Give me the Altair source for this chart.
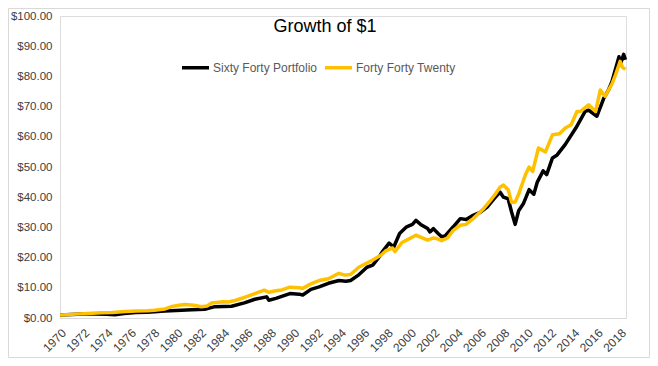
import altair as alt
import pandas as pd

# Sixty Forty Portfolio (black)
sf_years = [1970.0, 1971.0, 1972.0, 1973.0, 1974.0, 1974.7, 1975.5, 1976.5, 1977.5, 1978.1,
            1979.0, 1980.4, 1981.3, 1982.4, 1983.2, 1984.0, 1984.7, 1985.8, 1986.7, 1987.7,
            1987.9, 1988.5, 1989.7, 1990.5, 1990.8, 1991.5, 1992.2, 1993.0, 1993.9, 1994.5,
            1994.9, 1995.6, 1996.3, 1996.8, 1997.4, 1997.6, 1998.2, 1998.6, 1999.1, 1999.7,
            2000.2, 2000.5, 2000.9, 2001.5, 2001.7, 2002.0, 2002.4, 2002.7, 2003.0, 2003.7,
            2004.3, 2004.8, 2005.4, 2006.0, 2006.6, 2007.2, 2007.7, 2008.0, 2008.4, 2008.7,
            2009.0, 2009.3, 2009.7, 2010.2, 2010.6, 2010.9, 2011.4, 2011.7, 2012.2, 2012.6,
            2013.3, 2014.2, 2015.0, 2015.3, 2015.6, 2016.0, 2016.6, 2017.0, 2017.3, 2017.9,
            2018.0, 2018.3, 2018.45]
sf_values = [1.0, 1.15, 1.3, 1.35, 1.2, 1.1, 1.5, 1.8, 1.9, 2.1,
             2.3, 2.6, 2.7, 2.9, 3.7, 3.8, 3.9, 5.0, 6.2, 7.0,
             5.9, 6.5, 8.1, 7.9, 7.6, 9.5, 10.3, 11.5, 12.4, 12.2,
             12.4, 14.3, 16.8, 17.5, 20.5, 21.8, 24.8, 23.5, 28.0, 30.2,
             31.0, 32.3, 31.0, 29.6, 28.5, 29.6, 28.0, 26.9, 27.2, 30.2,
             32.9, 32.6, 34.0, 35.0, 36.7, 39.5, 41.7, 40.0, 39.5, 35.0,
             31.0, 35.5, 37.8, 42.5, 41.0, 45.0, 48.7, 47.5, 53.0, 54.0,
             57.5, 62.9, 68.4, 68.8, 67.9, 66.8, 72.8, 75.5, 78.3, 86.5,
             83.8, 87.3, 85.5]

# Forty Forty Twenty (gold)
fft_years = [1970.0, 1971.0, 1972.4, 1973.5, 1974.5, 1975.3, 1976.5, 1977.5, 1978.1, 1979.0,
             1979.5, 1980.2, 1980.7, 1981.5, 1982.1, 1982.6, 1983.0, 1984.0, 1984.4, 1985.0,
             1985.8, 1986.7, 1987.5, 1987.9, 1988.5, 1989.0, 1989.7, 1990.5, 1990.8, 1991.5,
             1992.2, 1993.0, 1993.9, 1994.4, 1994.9, 1995.6, 1996.3, 1996.8, 1997.5, 1997.9,
             1998.5, 1998.7, 1999.3, 1999.7, 2000.5, 2000.9, 2001.5, 2002.0, 2002.3, 2002.7,
             2003.2, 2003.7, 2004.3, 2004.8, 2005.4, 2006.3, 2006.8, 2007.3, 2007.7, 2008.0,
             2008.4, 2008.7, 2009.0, 2009.3, 2009.9, 2010.2, 2010.5, 2011.0, 2011.6, 2012.2,
             2012.8, 2013.3, 2013.8, 2014.3, 2014.6, 2015.3, 2015.9, 2016.3, 2016.7, 2017.3,
             2017.6, 2018.0, 2018.2, 2018.45]
fft_values = [1.0, 1.2, 1.5, 1.7, 1.8, 2.1, 2.3, 2.4, 2.6, 3.0,
              3.7, 4.2, 4.5, 4.2, 3.7, 4.0, 5.0, 5.4, 5.3, 5.8,
              6.8, 8.1, 9.2, 8.5, 9.0, 9.3, 10.2, 10.0, 9.8, 11.3,
              12.4, 13.0, 14.8, 14.2, 14.4, 16.8, 18.2, 19.2, 20.8, 22.2,
              23.2, 22.0, 25.0, 25.8, 27.4, 26.8, 25.8, 26.5, 26.3, 25.6,
              26.5, 29.0, 30.7, 31.0, 32.9, 36.2, 38.5, 41.0, 43.3, 44.0,
              42.5, 38.3, 38.4, 41.0, 47.6, 50.0, 48.5, 56.3, 55.0, 60.7,
              61.0, 62.9, 64.0, 68.4, 68.4, 70.6, 68.4, 75.5, 73.4, 77.5,
              80.5, 85.0, 83.0, 82.3]

series_names = ["Sixty Forty Portfolio", "Forty Forty Twenty"]
series_colors = ["#000000", "#FFC000"]
x_ticks = list(range(1970, 2019, 2))
y_ticks = list(range(0, 101, 10))
title_text = "Growth of $1"

df = pd.concat([
    pd.DataFrame({"year": sf_years, "value": sf_values, "series": series_names[0]}),
    pd.DataFrame({"year": fft_years, "value": fft_values, "series": series_names[1]}),
], ignore_index=True)

FONT = "Liberation Sans"

lines = alt.Chart(df).mark_line(strokeWidth=3.5, strokeJoin="round").encode(
    x=alt.X("year:Q",
            scale=alt.Scale(domain=[1970, 2018.5], nice=False, zero=False),
            axis=alt.Axis(values=x_ticks, format="d", labelAngle=-45, title=None,
                          grid=False, ticks=False, domainColor="#d9d9d9",
                          labelColor="#404040", labelFontSize=12, labelFont=FONT,
                          labelPadding=9, labelOverlap=False)),
    y=alt.Y("value:Q",
            scale=alt.Scale(domain=[0, 100], nice=False),
            axis=alt.Axis(values=y_ticks, format="$,.2f", title=None, grid=False,
                          ticks=False, domain=False, labelColor="#404040",
                          labelFontSize=11.5, labelFont=FONT, labelPadding=8)),
    color=alt.Color("series:N",
                    scale=alt.Scale(domain=series_names, range=series_colors),
                    legend=alt.Legend(orient="none", legendX=120, legendY=36,
                                      direction="horizontal", title=None,
                                      symbolType="stroke", symbolSize=729,
                                      symbolStrokeWidth=3.5, labelOffset=2,
                                      columnPadding=0, padding=0,
                                      labelFont=FONT, labelFontSize=12,
                                      labelColor="#595959")),
    order=alt.Order("series:N", sort="descending"),
)

one = pd.DataFrame({"t": [title_text]})
title = alt.Chart(one).mark_text(font=FONT, fontSize=18, color="#000000",
                                 align="center", baseline="alphabetic").encode(
    text="t:N", x=alt.value(265), y=alt.value(15.5))

border = alt.Chart(pd.DataFrame({"a": [0]})).mark_rect(
    fillOpacity=0, stroke="#d9d9d9", strokeWidth=1).encode(
    x=alt.value(-51.5), x2=alt.value(589.5), y=alt.value(-7.5), y2=alt.value(341.5))

chart = alt.layer(border, lines, title).properties(
    width=566, height=302,
    autosize=alt.AutoSizeParams(type="none"),
    padding={"left": 52, "top": 8, "right": 24, "bottom": 40},
).configure_view(stroke=None).configure(background="white")

chart.save("out.html", embed_options={"renderer": "svg", "actions": False})
